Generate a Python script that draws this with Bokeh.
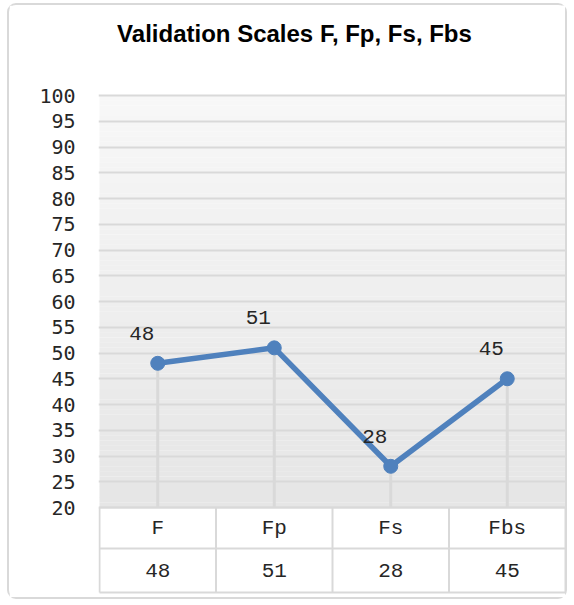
import numpy as np
from bokeh.plotting import figure
from bokeh.models import Range1d, FixedTicker, ColumnDataSource
from bokeh.core.properties import value
from bokeh.embed import file_html
from bokeh.resources import INLINE

# ---- data ----
categories = ["F", "Fp", "Fs", "Fbs"]
scores = [48, 51, 28, 45]
y_ticks = list(range(20, 101, 5))
title_text = "Validation Scales F, Fp, Fs, Fbs"

# ---- layout constants (pixels, relative to the figure content box) ----
W, H = 560, 596
Y_MIN, Y_MAX = 20, 100
TOP_PX = 90.0          # pixel row of the 100 line
PLOT_PX = 412.0        # pixels from 100 down to 20
ppu = PLOT_PX / (Y_MAX - Y_MIN)
ROW1_PX, ROW2_PX = 41.0, 44.0
row_div = Y_MIN - ROW1_PX / ppu
table_bottom = row_div - ROW2_PX / ppu
y_end = Y_MAX + TOP_PX / ppu
y_start = y_end - H / ppu

n = len(categories)
LEFT = 89
RIGHT = 3
frame_w = W - LEFT - RIGHT
cat_px = 466.0 / n
pad = (frame_w - 466.0) / 2 / cat_px
xs = np.arange(n) + 0.5

p = figure(width=W, height=H, output_backend="svg", toolbar_location=None, title=None,
           x_range=Range1d(-pad, n + pad), y_range=Range1d(y_start, y_end),
           min_border_left=LEFT, min_border_right=RIGHT, min_border_top=0, min_border_bottom=0,
           background_fill_color="white", border_fill_color="white",
           outline_line_color=None)
p.styles = {"border": "2px solid #d9d9d9", "border-radius": "9px",
            "margin-left": "7px", "margin-top": "3px"}

# axes
p.xaxis.visible = False
p.xgrid.visible = False
ax = p.yaxis[0]
ax.ticker = FixedTicker(ticks=y_ticks)
ax.axis_line_color = None
ax.major_tick_line_color = None
ax.minor_tick_line_color = None
ax.major_tick_in = 0
ax.major_tick_out = 0
ax.major_label_standoff = 23
ax.major_label_text_font = "DejaVu Sans Mono"
ax.major_label_text_font_size = "20px"
ax.major_label_text_color = "#262626"
p.ygrid.grid_line_color = "#d9d9d9"
p.ygrid.grid_line_width = 2
p.ygrid.ticker = FixedTicker(ticks=y_ticks)

# title (text placed above the plot area)
title_x = (294 - 99) / cat_px
title_y = Y_MAX + (95 - 33) / ppu
p.text([title_x], [title_y], text=[title_text], text_font=value("Liberation Sans"),
       text_font_style="bold", text_font_size="24px", text_color="#000000",
       text_align="center", text_baseline="middle")

# gradient plot background (decoration)
N = 80
edges = np.linspace(Y_MIN, Y_MAX, N + 1)
top_c = np.array([248, 248, 248])
bot_c = np.array([230, 230, 230])
cols = []
for i in range(N):
    t = (edges[i] - Y_MIN) / (Y_MAX - Y_MIN)
    c = (bot_c + (top_c - bot_c) * t).astype(int)
    cols.append("#%02x%02x%02x" % tuple(c))
p.quad(left=0, right=n, bottom=edges[:-1], top=edges[1:] + 0.02, fill_color=cols,
       line_color=None, level="image")

# drop lines
p.segment(x0=xs, y0=[Y_MIN] * n, x1=xs, y1=scores, line_color="#d9d9d9", line_width=3)

# data table lines
vx = np.arange(n + 1)
p.segment(x0=vx, y0=[table_bottom] * (n + 1), x1=vx, y1=[Y_MIN] * (n + 1),
          line_color="#d9d9d9", line_width=2)
p.segment(x0=[0, 0, 0], y0=[Y_MIN, row_div, table_bottom], x1=[n, n, n],
          y1=[Y_MIN, row_div, table_bottom], line_color="#d9d9d9", line_width=2)

# series
src = ColumnDataSource(dict(x=xs, y=scores, lab=[str(v) for v in scores], cat=categories))
p.line("x", "y", source=src, line_color="#4f81bd", line_width=5.5)
p.scatter("x", "y", source=src, size=14, fill_color="#4f81bd", line_color="#4f81bd")
p.text("x", "y", text="lab", source=src, x_offset=-16, y_offset=-30,
       text_font=value("Liberation Mono"), text_font_size="21px", text_color="#262626",
       text_align="center", text_baseline="middle")

# table texts
p.text(xs, [(Y_MIN + row_div) / 2] * n, text=categories,
       text_font=value("Liberation Mono"), text_font_size="21px", text_color="#262626",
       text_align="center", text_baseline="middle")
p.text(xs, [(row_div + table_bottom) / 2] * n, text=[str(v) for v in scores],
       text_font=value("Liberation Mono"), text_font_size="21px", text_color="#262626",
       text_align="center", text_baseline="middle")

open("out.html", "w").write(file_html(p, INLINE))
